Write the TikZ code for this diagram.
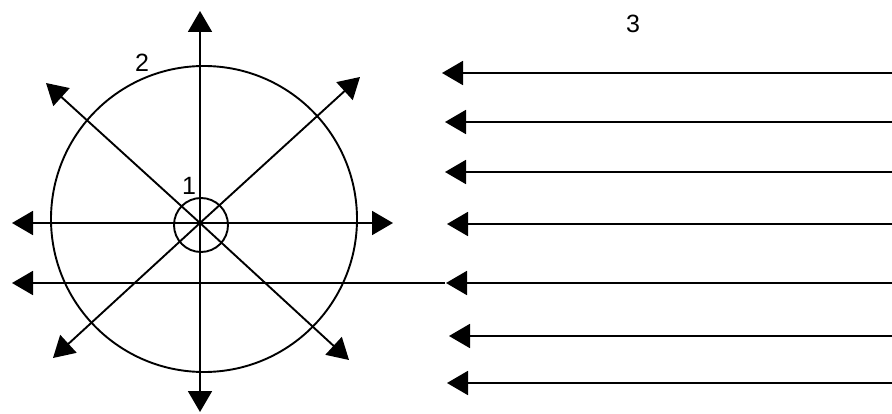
\documentclass[tikz,border=0pt]{standalone}
\usepackage{fontspec}
\setmainfont{Liberation Sans}
\usetikzlibrary{arrows.meta}
\begin{document}
\begin{tikzpicture}[x=1pt,y=-1pt,
  ln/.style={line width=1.9pt},
  arr/.style={ln,-{Triangle[length=21pt,width=24pt]}},
  lbl/.style={font=\fontsize{25}{30}\selectfont,inner sep=0pt},
  ring/.style={draw,circle,line width=1.9pt,inner sep=0pt}]
\useasboundingbox (0,0) rectangle (892,414);
% circles
\node[ring,minimum size=306pt] (big) at (204,219) {};
\node[ring,minimum size=54pt] (small) at (201,225) {};
% radiating arrows
\coordinate (c) at (200,223);
\coordinate (tN) at (200,11);
\coordinate (tS) at (200,412);
\coordinate (tW) at (12,223);
\coordinate (tE) at (393,223);
\coordinate (tNW) at (46,83);
\coordinate (tNE) at (360,77);
\coordinate (tSW) at (53,358);
\coordinate (tSE) at (349,360);
\foreach \t in {tN,tS,tW,tE,tNW,tNE,tSW,tSE} \draw[arr] (c) -- (\t);
% long line across
\coordinate (hs) at (445,283);
\coordinate (he) at (12,283);
\draw[arr] (hs) -- (he);
% incoming arrows on the right
\coordinate (r1s) at (892,73);  \coordinate (r1e) at (442,73);
\coordinate (r2s) at (892,122); \coordinate (r2e) at (445,122);
\coordinate (r3s) at (892,172); \coordinate (r3e) at (445,172);
\coordinate (r4s) at (892,224); \coordinate (r4e) at (447,224);
\coordinate (r5s) at (892,283); \coordinate (r5e) at (446,283);
\coordinate (r6s) at (892,336); \coordinate (r6e) at (449,336);
\coordinate (r7s) at (892,383); \coordinate (r7e) at (447,383);
\foreach \i in {1,...,7} \draw[arr] (r\i s) -- (r\i e);
% labels
\node[lbl] (l1) at (189,186) {1};
\node[lbl] (l2) at (142,63) {2};
\node[lbl] (l3) at (633,24) {3};
\end{tikzpicture}
\end{document}
